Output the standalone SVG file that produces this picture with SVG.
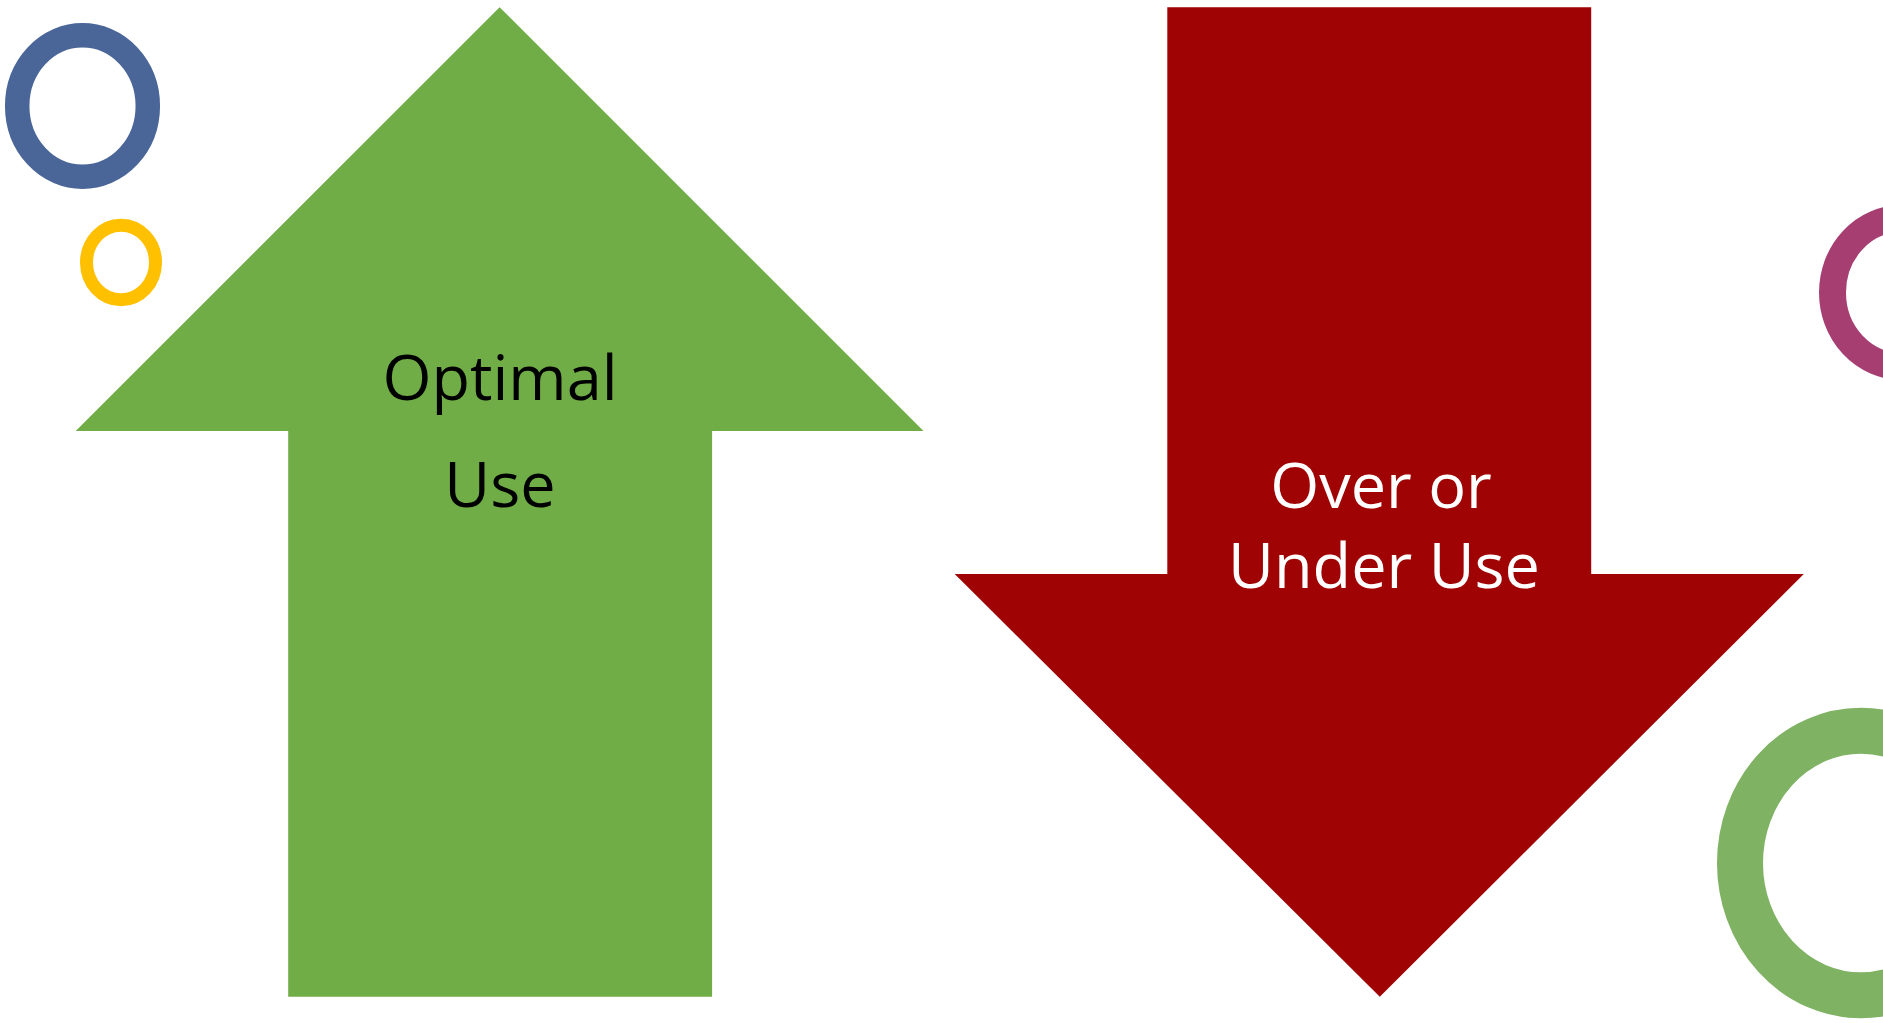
<svg xmlns="http://www.w3.org/2000/svg" width="1883" height="1023" viewBox="0 0 1883 1023">
<style>
.ring{fill:none}
.lbl{font-family:"Open Sans","Liberation Sans",sans-serif;font-size:63px;text-anchor:middle}
</style>
<rect width="1883" height="1023" fill="#ffffff"/>
<g id="ring-blue"><ellipse class="ring" cx="82.5" cy="106" rx="65.3" ry="70.8" stroke="#4A6699" stroke-width="24.5"/></g>
<g id="ring-yellow"><ellipse class="ring" cx="121" cy="262.5" rx="34.5" ry="37.2" stroke="#FFC000" stroke-width="13"/></g>
<g id="ring-purple"><ellipse class="ring" cx="1901" cy="292.5" rx="68.5" ry="73.8" stroke="#A63E71" stroke-width="27"/></g>
<g id="ring-green"><ellipse class="ring" cx="1861" cy="863" rx="121" ry="132.3" stroke="#7FB263" stroke-width="46"/></g>
<g id="arrow-up">
<polygon points="499.6,7.2 923.5,431 712.1,431 712.1,996.7 288.2,996.7 288.2,431 75.7,431" fill="#70AD47"/>
<text class="lbl" x="500" y="400" fill="#000000">Optimal</text>
<text class="lbl" x="500" y="506.7" fill="#000000">Use</text>
</g>
<g id="arrow-down">
<polygon points="1167.3,7.2 1591.2,7.2 1591.2,574 1803.8,574 1379.8,996.7 954.7,574 1167.3,574" fill="#A00303"/>
<text class="lbl" x="1381" y="508.3" fill="#ffffff">Over or</text>
<text class="lbl" x="1384" y="588.3" fill="#ffffff">Under Use</text>
</g>
<g id="connectors"/>
</svg>
